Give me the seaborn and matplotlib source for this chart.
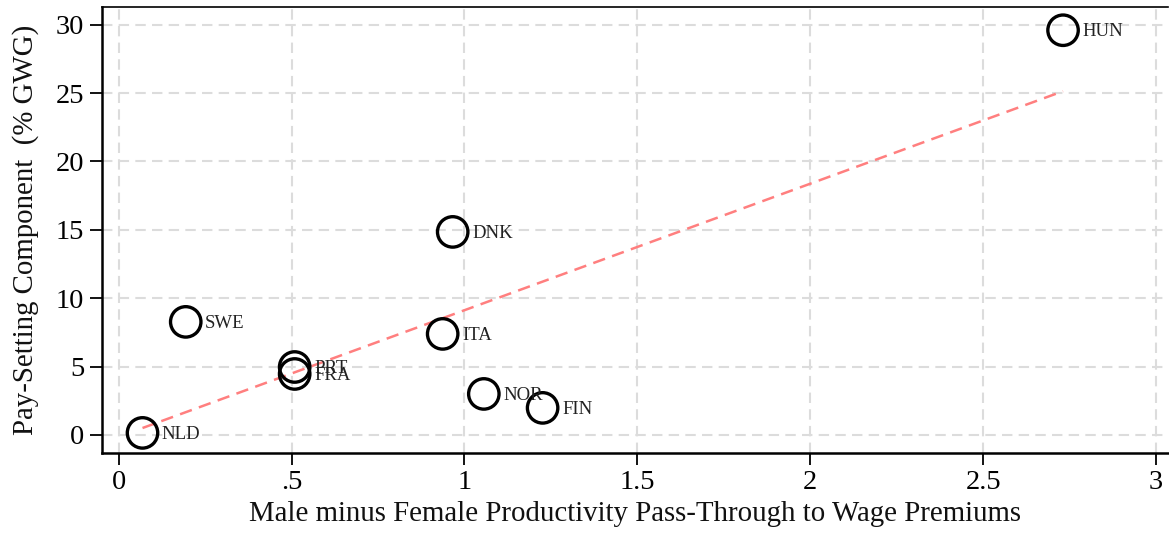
import matplotlib
matplotlib.use("Agg")
import matplotlib.pyplot as plt
import seaborn as sns
import pandas as pd

countries = ["NLD", "SWE", "PRT", "FRA", "ITA", "DNK", "NOR", "FIN", "HUN"]
passthrough_gap = [0.069, 0.194, 0.509, 0.509, 0.937, 0.966, 1.056, 1.226, 2.731]
pay_setting = [0.15, 8.27, 4.97, 4.46, 7.39, 14.85, 3.00, 1.98, 29.6]

x_ticks = [0, 0.5, 1, 1.5, 2, 2.5, 3]
x_tick_labels = ["0", ".5", "1", "1.5", "2", "2.5", "3"]
y_ticks = [0, 5, 10, 15, 20, 25, 30]

df = pd.DataFrame({"country": countries, "gap": passthrough_gap, "pay": pay_setting})

sns.set_theme(style="white")
plt.rcParams["font.family"] = ["Liberation Serif", "DejaVu Serif"]

fig, ax = plt.subplots(figsize=(11.69, 5.38), dpi=100)
fig.subplots_adjust(left=0.087, right=0.999, top=0.987, bottom=0.158)

ax.grid(True, color="#dcdcdc", linestyle=(0, (5, 3)), linewidth=1.5)
ax.set_axisbelow(True)

sns.regplot(data=df, x="gap", y="pay", scatter=False, ci=None, ax=ax,
            line_kws=dict(color="#ff7f7f", linestyle=(0, (5, 3)), linewidth=1.8))
sns.scatterplot(data=df, x="gap", y="pay", ax=ax, marker="o", s=480,
                facecolor="none", edgecolor="black", linewidth=2.4, zorder=5)

for c, xv, yv in zip(countries, passthrough_gap, pay_setting):
    ax.annotate(c, (xv, yv), xytext=(14, -1), textcoords="offset points",
                ha="left", va="center", fontsize=13.5, color="#222222", zorder=6)

ax.set_xlim(-0.049, 3.034)
ax.set_ylim(-1.32, 31.3)
ax.set_xticks(x_ticks)
ax.set_xticklabels(x_tick_labels)
ax.set_yticks(y_ticks)
ax.tick_params(axis="both", which="major", labelsize=20.5, direction="out",
               length=8.6, width=1.3, color="black", labelcolor="black",
               pad=4, left=True, bottom=True)

ax.set_xlabel("Male minus Female Productivity Pass-Through to Wage Premiums",
              fontsize=20.8, labelpad=4, color="#111111")
ax.set_ylabel("Pay-Setting Component  (% GWG)", fontsize=20.8, labelpad=12,
              color="#111111")

for side in ["left", "bottom"]:
    ax.spines[side].set_color("black")
    ax.spines[side].set_linewidth(1.8)
ax.spines["top"].set_color("black")
ax.spines["top"].set_linewidth(1.2)
ax.spines["right"].set_visible(False)

fig.savefig("out.png", dpi=100)
